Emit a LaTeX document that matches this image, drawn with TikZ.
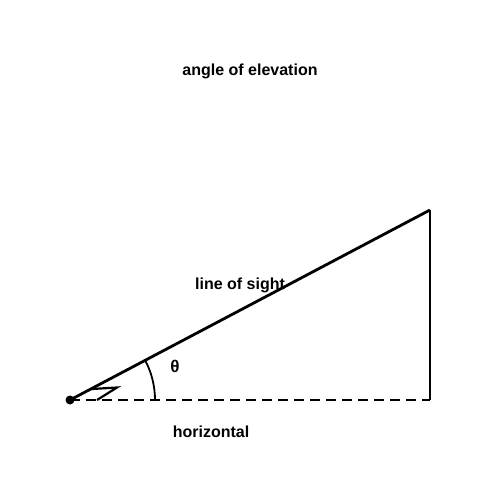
\documentclass[tikz,border=0pt]{standalone}
\usepackage{fontspec}
\setmainfont{Liberation Sans}
\begin{document}
\begin{tikzpicture}[x=1pt,y=-1pt,
  lbl/.style={font=\fontsize{16}{19}\selectfont\bfseries, inner sep=0pt},
  edge/.style={line width=2.8pt},
  dashedge/.style={line width=2.3pt, dash pattern=on 10pt off 6pt}]
\useasboundingbox (0,0) rectangle (500,500);
\fill[white] (0,0) rectangle (500,500);
\node[lbl] (title) at (250,71) {angle of elevation};
\coordinate (E) at (70,400);
\coordinate (T) at (430,210);
\coordinate (B) at (430,400);
\node[circle, fill=black, inner sep=0pt, minimum size=9pt] (eye) at (E) {};
\draw[edge] (E) -- (T);
\draw[edge] (T) -- (B);
\draw[dashedge] (E) -- (B);
\coordinate (h1) at (92,389);
\coordinate (h2) at (117,387.5);
\coordinate (h3) at (97,400);
\draw[line width=2.2pt, line join=miter] (h1) -- (h2) -- (h3);
\draw[line width=1.8pt] (155,400) arc[start angle=0, end angle=-27.8, radius=85];
\node[lbl, font=\fontsize{17}{20}\selectfont\bfseries] (theta) at (175,366) {θ};
\node[lbl] (los) at (240,285) {line of sight};
\node[lbl] (hor) at (211,432) {horizontal};
\end{tikzpicture}
\end{document}
